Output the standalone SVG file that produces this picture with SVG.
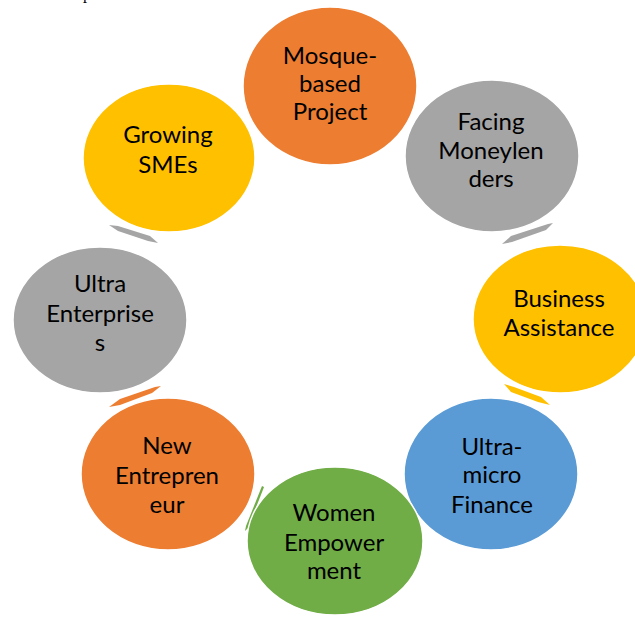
<svg xmlns="http://www.w3.org/2000/svg" width="635" height="622" viewBox="0 0 635 622">
<style>
.n{stroke:#fff;stroke-width:1.5}
.t{font-family:Lato,"Liberation Sans",sans-serif;font-size:24px;fill:#000;text-anchor:middle}
.or{fill:#ED7D31}.gy{fill:#A5A5A5}.ye{fill:#FFC000}.bl{fill:#5B9BD5}.gr{fill:#70AD47}
</style>
<rect width="635" height="622" fill="#fff"/>
<text x="83" y="-1" font-family="Liberation Serif,serif" font-size="16" fill="#000">p</text>
<g id="connectors">
<polygon class="gy" points="502,244 511,236 548,224 553,223 546,230 512,242"/>
<polygon class="ye" points="504,384 514,387 541,397 550,405 538,402 511,392"/>
<polygon class="gr" points="262,486 264,487 248,528 245,531 246,526"/>
<polygon class="or" points="109,407 120,399 155,387 161,386 152,393 120,405"/>
<polygon class="gy" points="109,225 118,226 150,236 158,243 148,241 118,231"/>
</g>
<g id="mosque"><ellipse class="n or" cx="330" cy="86" rx="87" ry="79"/>
<text class="t" x="330" y="64">Mosque-</text><text class="t" x="330" y="92">based</text><text class="t" x="330" y="120">Project</text></g>
<g id="moneylenders"><ellipse class="n gy" cx="492" cy="156" rx="87" ry="76"/>
<text class="t" x="491" y="130">Facing</text><text class="t" x="491" y="159">Moneylen</text><text class="t" x="491" y="187">ders</text></g>
<g id="business"><ellipse class="n ye" cx="560" cy="319" rx="87" ry="74"/>
<text class="t" x="559" y="307">Business</text><text class="t" x="559" y="336">Assistance</text></g>
<g id="ultramicro"><ellipse class="n bl" cx="491" cy="474" rx="87" ry="76"/>
<text class="t" x="492" y="455">Ultra-</text><text class="t" x="492" y="483">micro</text><text class="t" x="492" y="513">Finance</text></g>
<g id="women"><ellipse class="n gr" cx="335" cy="541" rx="88" ry="74"/>
<text class="t" x="334" y="521">Women</text><text class="t" x="334" y="551">Empower</text><text class="t" x="334" y="579">ment</text></g>
<g id="newentrepreneur"><ellipse class="n or" cx="168" cy="474" rx="87" ry="76"/>
<text class="t" x="167" y="454">New</text><text class="t" x="167" y="484">Entrepren</text><text class="t" x="167" y="513">eur</text></g>
<g id="ultraenterprises"><ellipse class="n gy" cx="100" cy="320" rx="87" ry="73"/>
<text class="t" x="100" y="292">Ultra</text><text class="t" x="100" y="322">Enterprise</text><text class="t" x="100" y="351">s</text></g>
<g id="growingsmes"><ellipse class="n ye" cx="169" cy="158" rx="86" ry="74"/>
<text class="t" x="168" y="143">Growing</text><text class="t" x="168" y="173">SMEs</text></g>
</svg>
